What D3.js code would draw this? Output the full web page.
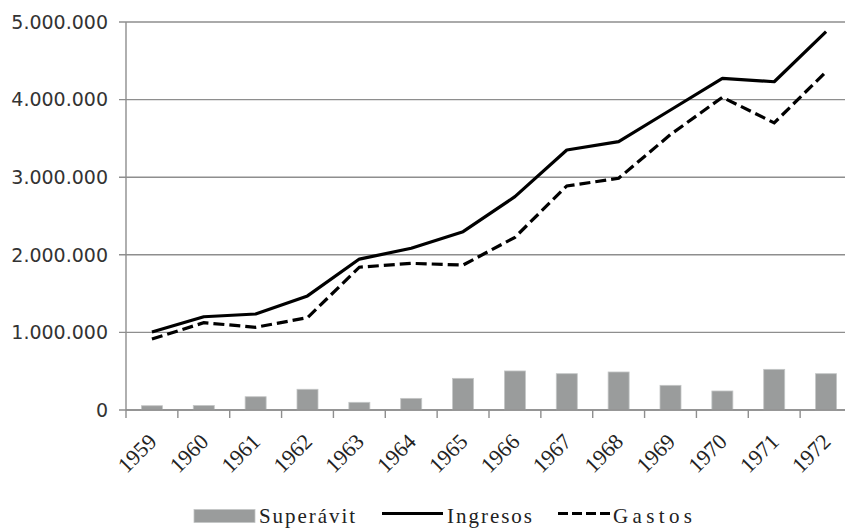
<!DOCTYPE html>
<html>
<head>
<meta charset="utf-8">
<script src="https://cdn.jsdelivr.net/npm/d3@7"></script>
<style>
  html, body { margin: 0; padding: 0; background: #fff; }
  svg { display: block; }
  .serif { font-family: "Liberation Serif", "Times New Roman", Times, "DejaVu Serif", serif; }
  .sans { font-family: "DejaVu Sans", Verdana, sans-serif; }
</style>
</head>
<body>
<svg id="chart" width="845" height="528"></svg>
<script>
// Fiscal series, 1959–1972
const years = ["1959","1960","1961","1962","1963","1964","1965","1966","1967","1968","1969","1970","1971","1972"];
const ingresos = [1005000, 1202000, 1237000, 1470000, 1945000, 2084000, 2298000, 2749000, 3350000, 3458000, 3866000, 4274000, 4230000, 4875000];
const gastos = [915000, 1125000, 1066000, 1190000, 1840000, 1890000, 1868000, 2225000, 2887000, 2986000, 3550000, 4030000, 3700000, 4360000];
const superavit = [55000, 58000, 171000, 267000, 99000, 150000, 408000, 503000, 468000, 490000, 318000, 245000, 524000, 468000];
const yTicks = [0, 1000000, 2000000, 3000000, 4000000, 5000000];
const yTickLabels = ["0", "1.000.000", "2.000.000", "3.000.000", "4.000.000", "5.000.000"];
const legendLabels = ["Superávit", "Ingresos", "Gastos"];

const svg = d3.select("#chart");
const plotLeft = 126, plotRight = 852, plotTop = 22, plotBottom = 410;

const x = d3.scaleBand().domain(years).range([plotLeft, plotRight]).paddingInner(0).paddingOuter(0);
const y = d3.scaleLinear().domain([0, 5000000]).range([plotBottom, plotTop]);

const gridColor = "#8e8e8e";

// horizontal gridlines
svg.append("g")
  .selectAll("line")
  .data(yTicks)
  .join("line")
  .attr("x1", plotLeft - 7).attr("x2", plotRight)
  .attr("y1", d => y(d)).attr("y2", d => y(d))
  .attr("stroke", gridColor).attr("stroke-width", 1.4);

// y axis line
svg.append("line")
  .attr("x1", plotLeft).attr("x2", plotLeft)
  .attr("y1", plotTop).attr("y2", plotBottom + 8)
  .attr("stroke", gridColor).attr("stroke-width", 1.4);

// x tick marks on band boundaries
svg.append("g")
  .selectAll("line")
  .data(years.slice(1))
  .join("line")
  .attr("x1", d => x(d)).attr("x2", d => x(d))
  .attr("y1", plotBottom).attr("y2", plotBottom + 8)
  .attr("stroke", gridColor).attr("stroke-width", 1.4);

// y tick labels
svg.append("g")
  .selectAll("text")
  .data(yTicks)
  .join("text")
  .attr("class", "sans")
  .attr("x", 108)
  .attr("y", d => y(d))
  .attr("dy", "0.36em")
  .attr("text-anchor", "end")
  .attr("font-size", 19)
  .attr("fill", "#333")
  .text((d, i) => yTickLabels[i]);

// x labels, rotated
svg.append("g")
  .selectAll("text")
  .data(years)
  .join("text")
  .attr("class", "serif")
  .attr("transform", d => `translate(${x(d) + x.bandwidth() / 2 + 6},${443}) rotate(-45)`)
  .attr("text-anchor", "end")
  .attr("font-size", 22)
  .attr("fill", "#222")
  .text(d => d);

// bars
const barW = x.bandwidth() * 0.405;
svg.append("g")
  .selectAll("rect")
  .data(superavit)
  .join("rect")
  .attr("x", (d, i) => x(years[i]) + x.bandwidth() / 2 - barW / 2)
  .attr("y", d => y(d))
  .attr("width", barW)
  .attr("height", d => y(0) - y(d))
  .attr("fill", "#9a9c9c")
  .attr("stroke", "#c4c6c6")
  .attr("stroke-width", 0.8);

// redraw baseline over bars
svg.append("line")
  .attr("x1", plotLeft).attr("x2", plotRight)
  .attr("y1", plotBottom).attr("y2", plotBottom)
  .attr("stroke", gridColor).attr("stroke-width", 1.4);

const line = d3.line()
  .x((d, i) => x(years[i]) + x.bandwidth() / 2)
  .y(d => y(d));

svg.append("path")
  .datum(ingresos)
  .attr("d", line)
  .attr("fill", "none")
  .attr("stroke", "#000")
  .attr("stroke-width", 3.2)
  .attr("stroke-linejoin", "round");

svg.append("path")
  .datum(gastos)
  .attr("d", line)
  .attr("fill", "none")
  .attr("stroke", "#000")
  .attr("stroke-width", 3.2)
  .attr("stroke-dasharray", "11,5");

// legend
const lg = svg.append("g");
lg.append("rect")
  .attr("x", 194).attr("y", 509.5).attr("width", 61).attr("height", 13)
  .attr("fill", "#9a9c9c").attr("stroke", "#c4c6c6").attr("stroke-width", 0.8);
lg.append("text")
  .attr("class", "serif")
  .attr("x", 259).attr("y", 523)
  .attr("font-size", 21).attr("fill", "#222")
  .attr("textLength", 96).attr("lengthAdjust", "spacing")
  .text(legendLabels[0]);
lg.append("line")
  .attr("x1", 382).attr("x2", 443).attr("y1", 513.5).attr("y2", 513.5)
  .attr("stroke", "#000").attr("stroke-width", 3.2);
lg.append("text")
  .attr("class", "serif")
  .attr("x", 447).attr("y", 523)
  .attr("font-size", 21).attr("fill", "#222")
  .attr("textLength", 85).attr("lengthAdjust", "spacing")
  .text(legendLabels[1]);
lg.append("line")
  .attr("x1", 558).attr("x2", 610).attr("y1", 513.5).attr("y2", 513.5)
  .attr("stroke", "#000").attr("stroke-width", 3.2)
  .attr("stroke-dasharray", "10,4");
lg.append("text")
  .attr("class", "serif")
  .attr("x", 613).attr("y", 523)
  .attr("font-size", 21).attr("fill", "#222")
  .attr("textLength", 79).attr("lengthAdjust", "spacing")
  .text(legendLabels[2]);
</script>
</body>
</html>
